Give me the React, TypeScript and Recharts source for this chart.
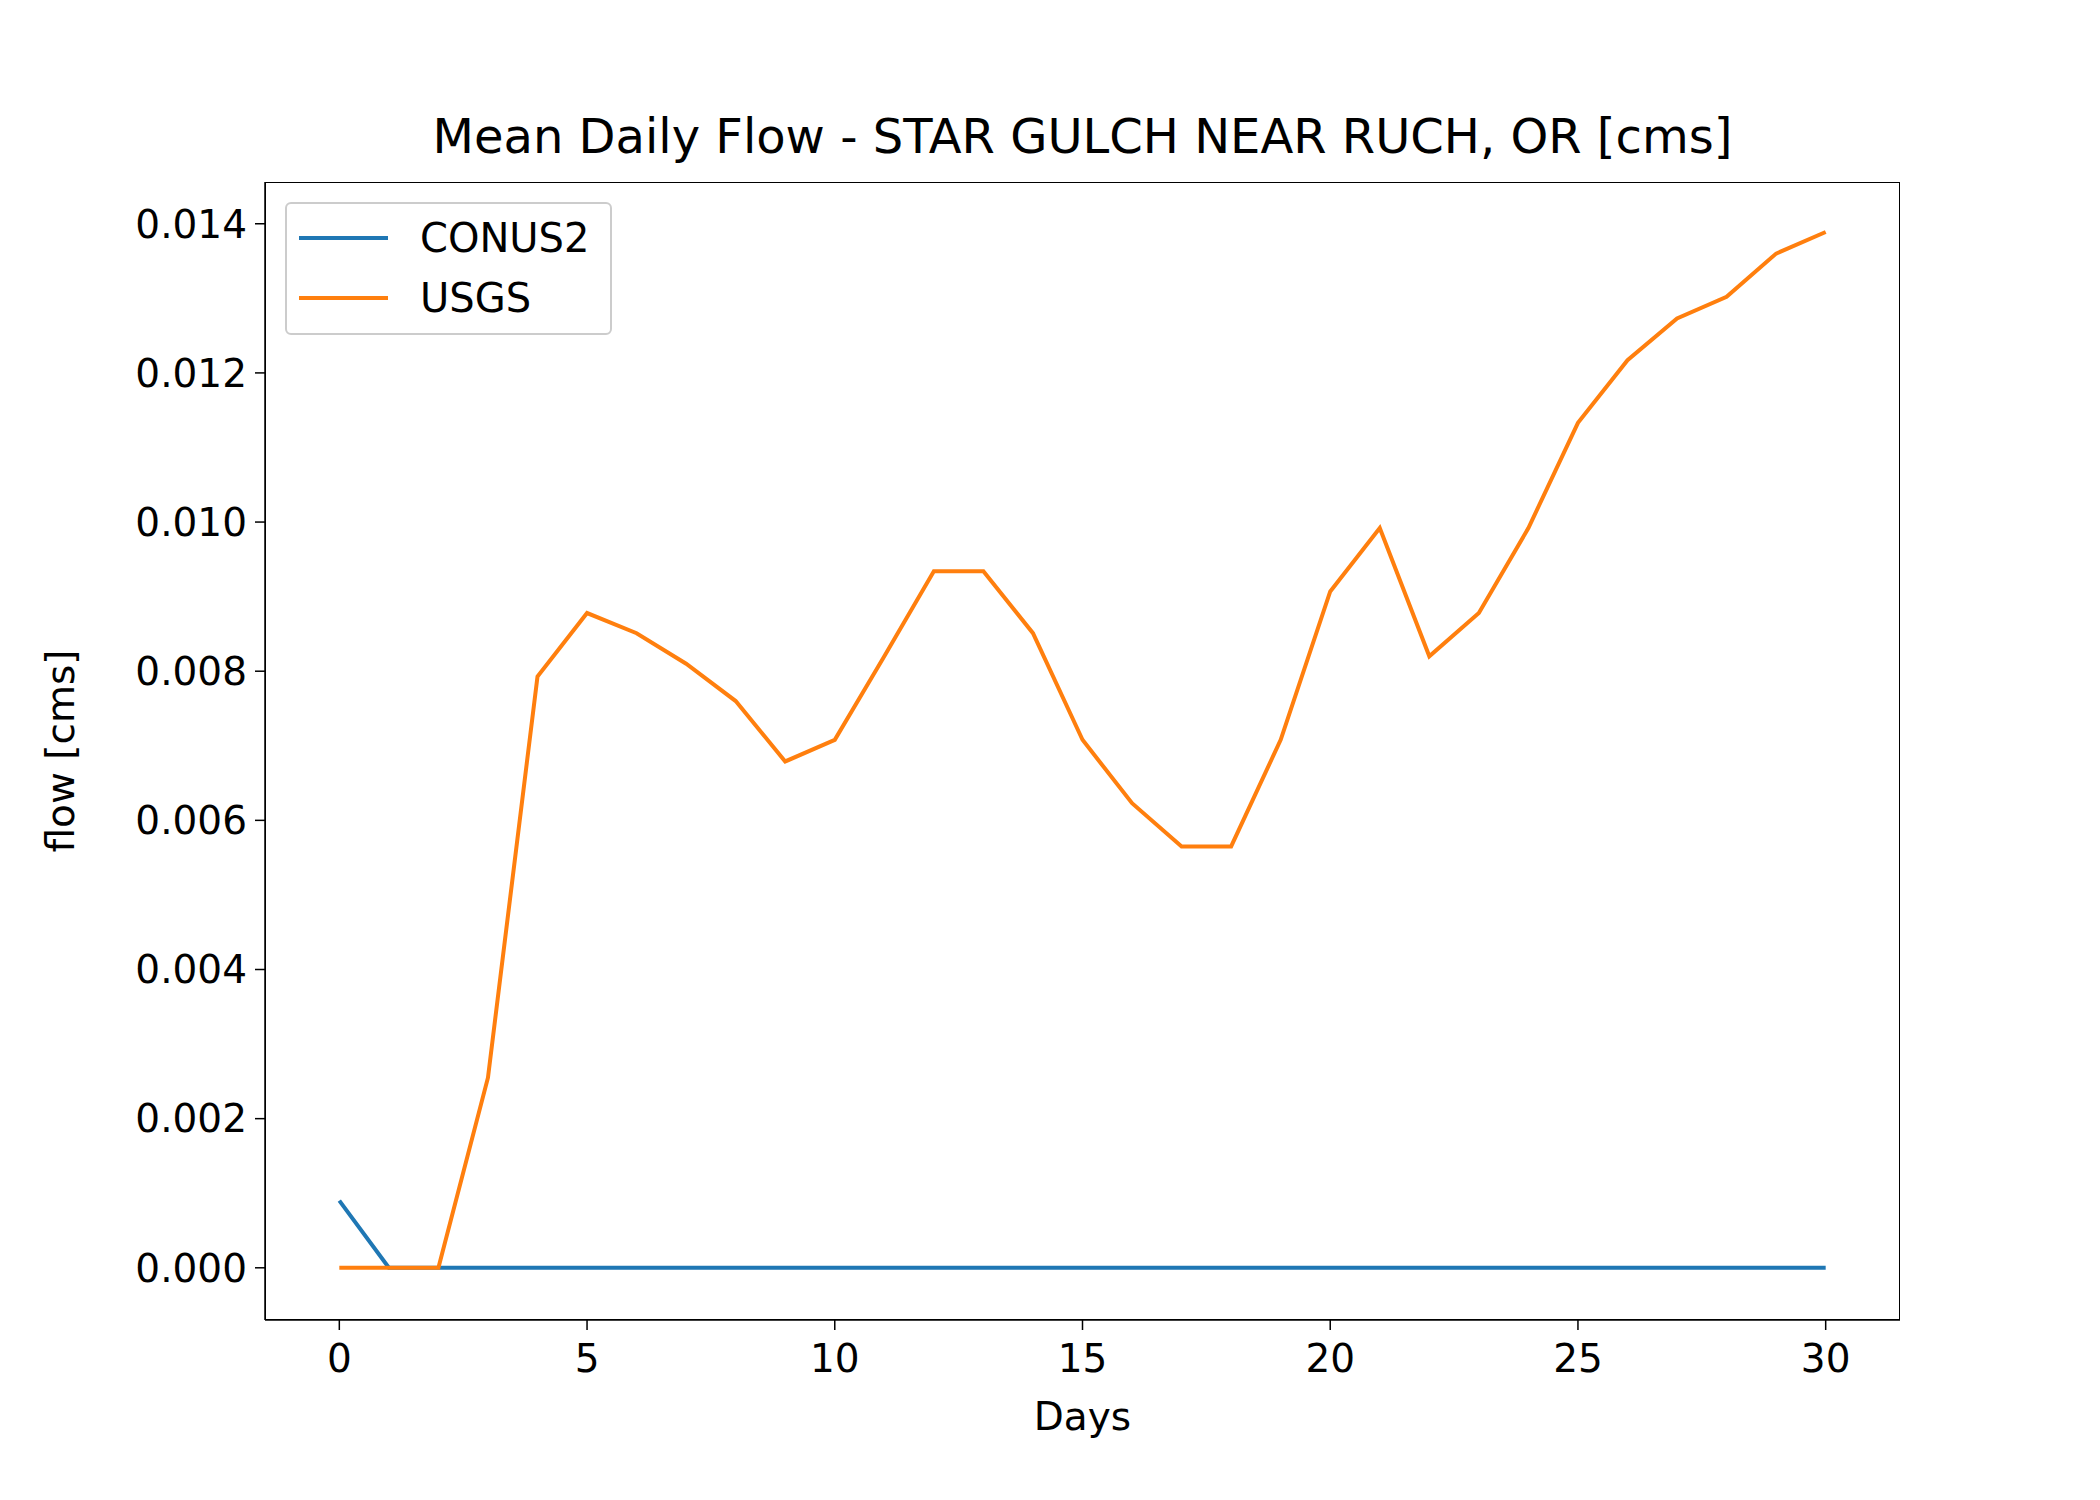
import React from "react";
import { LineChart, Line, XAxis, YAxis } from "recharts";

const days = Array.from({ length: 31 }, (_, i) => i);
const usgs = [0, 0, 0, 0.00255, 0.00793, 0.00878, 0.00851, 0.0081, 0.0076, 0.00679, 0.00708, 0.0082, 0.00934, 0.00934, 0.00851, 0.00708, 0.00623, 0.00565, 0.00565, 0.00708, 0.00907, 0.00992, 0.0082, 0.00878, 0.00992, 0.01133, 0.01217, 0.01273, 0.01302, 0.0136, 0.01389];
const conus2 = [0.0009, 0, 0, 0, 0, 0, 0, 0, 0, 0, 0, 0, 0, 0, 0, 0, 0, 0, 0, 0, 0, 0, 0, 0, 0, 0, 0, 0, 0, 0, 0];
const xTicks = [0, 5, 10, 15, 20, 25, 30];
const yTicks = [0, 0.002, 0.004, 0.006, 0.008, 0.01, 0.012, 0.014];

const data = days.map((d, i) => ({ day: d, conus2: conus2[i], usgs: usgs[i] }));
const font = "DejaVu Sans, sans-serif";

export default function App() {
  const L = 265, R = 1900, T = 182, B = 1320;
  return (
    <div style={{ position: "absolute", left: 0, top: 0, width: 2100, height: 1500, background: "#fff", fontFamily: font }}>
      <LineChart width={2100} height={1500} data={data} margin={{ top: T, right: 2100 - R, bottom: 0, left: 0 }}>
        <XAxis dataKey="day" type="number" domain={[-1.5, 31.5]} ticks={xTicks} tickSize={10} height={1500 - B}
          tick={{ fill: "#000", fontSize: 39, fontFamily: font, dy: 12 }} stroke="#000" strokeWidth={1.5}
          label={{ value: "Days", position: "insideTop", offset: 82, fill: "#000", fontSize: 39, fontFamily: font }} />
        <YAxis type="number" domain={[-0.0007, 0.01456]} ticks={yTicks} tickSize={10} width={L}
          tickFormatter={(v: number) => v.toFixed(3)} allowDataOverflow
          tick={{ fill: "#000", fontSize: 39, fontFamily: font, dx: -6 }} stroke="#000" strokeWidth={1.5}
          label={{ value: "flow [cms]", angle: -90, position: "insideLeft", offset: 60, fill: "#000", fontSize: 39, fontFamily: font, style: { textAnchor: "middle" } }} />
        <Line dataKey="conus2" stroke="#1f77b4" strokeWidth={4} dot={false} isAnimationActive={false} />
        <Line dataKey="usgs" stroke="#ff7f0e" strokeWidth={4} dot={false} isAnimationActive={false} />
      </LineChart>
      <div style={{ position: "absolute", left: L, top: T, width: R - L, height: B - T, border: "1.5px solid #000", boxSizing: "border-box", pointerEvents: "none" }} />
      <div style={{ position: "absolute", left: 0, width: 2100, top: 108, textAlign: "center", fontSize: 48, color: "#000" }}>
        <span style={{ position: "relative", left: (L + R) / 2 - 1050 }}>Mean Daily Flow - STAR GULCH NEAR RUCH, OR [cms]</span>
      </div>
      <div style={{ position: "absolute", left: 285, top: 202, width: 327, height: 133, border: "2px solid #ccc", borderRadius: 6, boxSizing: "border-box", background: "rgba(255,255,255,0.8)" }}>
        {[["CONUS2", "#1f77b4", 34], ["USGS", "#ff7f0e", 94]].map(([t, c, y]) => (
          <div key={t as string} style={{ position: "absolute", top: (y as number) - 25, left: 12, display: "flex", alignItems: "center", height: 50 }}>
            <div style={{ width: 89, height: 4, background: c as string }} />
            <span style={{ marginLeft: 32, fontSize: 40, color: "#000" }}>{t}</span>
          </div>
        ))}
      </div>
    </div>
  );
}
